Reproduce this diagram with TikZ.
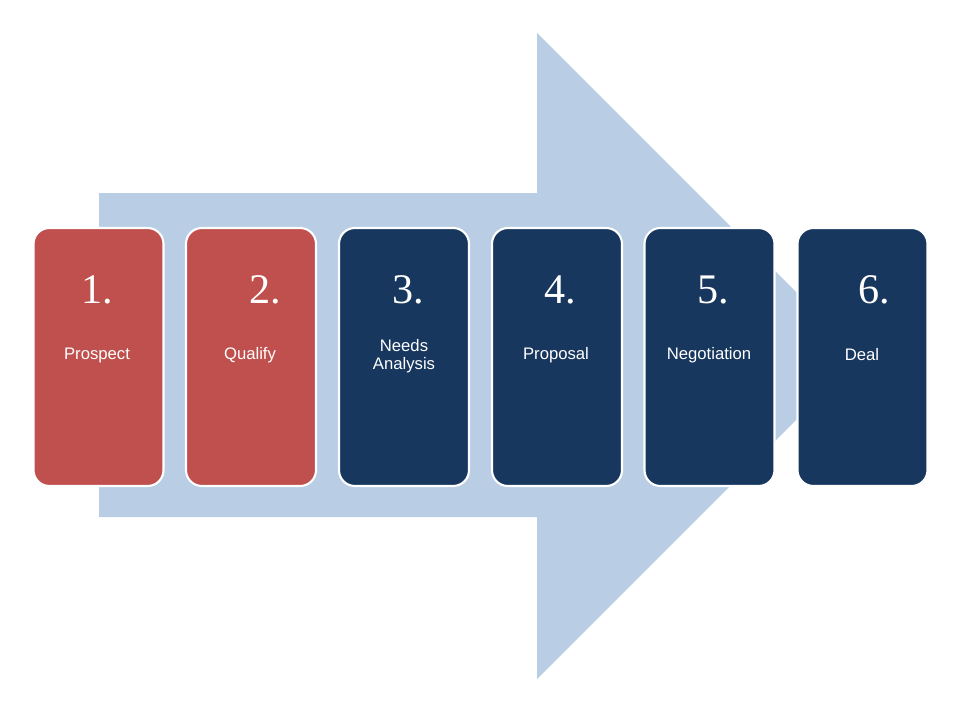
\documentclass[tikz,border=0pt]{standalone}
\usepackage{fontspec}
\setmainfont{Liberation Serif}
\newfontfamily\labelfont{Liberation Sans}
\definecolor{arrowblue}{HTML}{B9CDE5}
\definecolor{stepred}{HTML}{C0504D}
\definecolor{stepnavy}{HTML}{17375E}
\tikzset{
	stepbox/.style={draw=white,line width=1.2pt,rounded corners=9pt,minimum width=2.6cm,minimum height=5.16cm,inner sep=0pt},
	numtext/.style={font=\fontsize{24}{24}\selectfont,text=white},
	labtext/.style={font=\labelfont\fontsize{9.5}{10}\selectfont,text=white,align=center}
}
\begin{document}
\begin{tikzpicture}[x=0.02cm,y=-0.02cm]
	\useasboundingbox (0,0) rectangle (960,720);
	\fill[arrowblue] (99,193)--(537,193)--(537,33)--(860,356)--(537,679)--(537,517)--(99,517)--cycle;

	\node[stepbox,fill=stepred] (s1) at (98.5,357) {};
	\node[stepbox,fill=stepred] (s2) at (251,357) {};
	\node[stepbox,fill=stepnavy] (s3) at (404,357) {};
	\node[stepbox,fill=stepnavy] (s4) at (557,357) {};
	\node[stepbox,fill=stepnavy] (s5) at (709.5,357) {};
	\node[stepbox,fill=stepnavy] (s6) at (862.5,357) {};

	\node[numtext] (n1) at (97,290) {1.};
	\node[numtext] (n2) at (265,290) {2.};
	\node[numtext] (n3) at (408,290) {3.};
	\node[numtext] (n4) at (560,290) {4.};
	\node[numtext] (n5) at (713,290) {5.};
	\node[numtext] (n6) at (874,290) {6.};

	\node[labtext] (l1) at (97,355) {Prospect};
	\node[labtext] (l2) at (250,355) {Qualify};
	\node[labtext] (l3) at (404,356) {Needs\\Analysis};
	\node[labtext] (l4) at (556,355) {Proposal};
	\node[labtext] (l5) at (709,355) {Negotiation};
	\node[labtext] (l6) at (862,355) {Deal};
\end{tikzpicture}
\end{document}
